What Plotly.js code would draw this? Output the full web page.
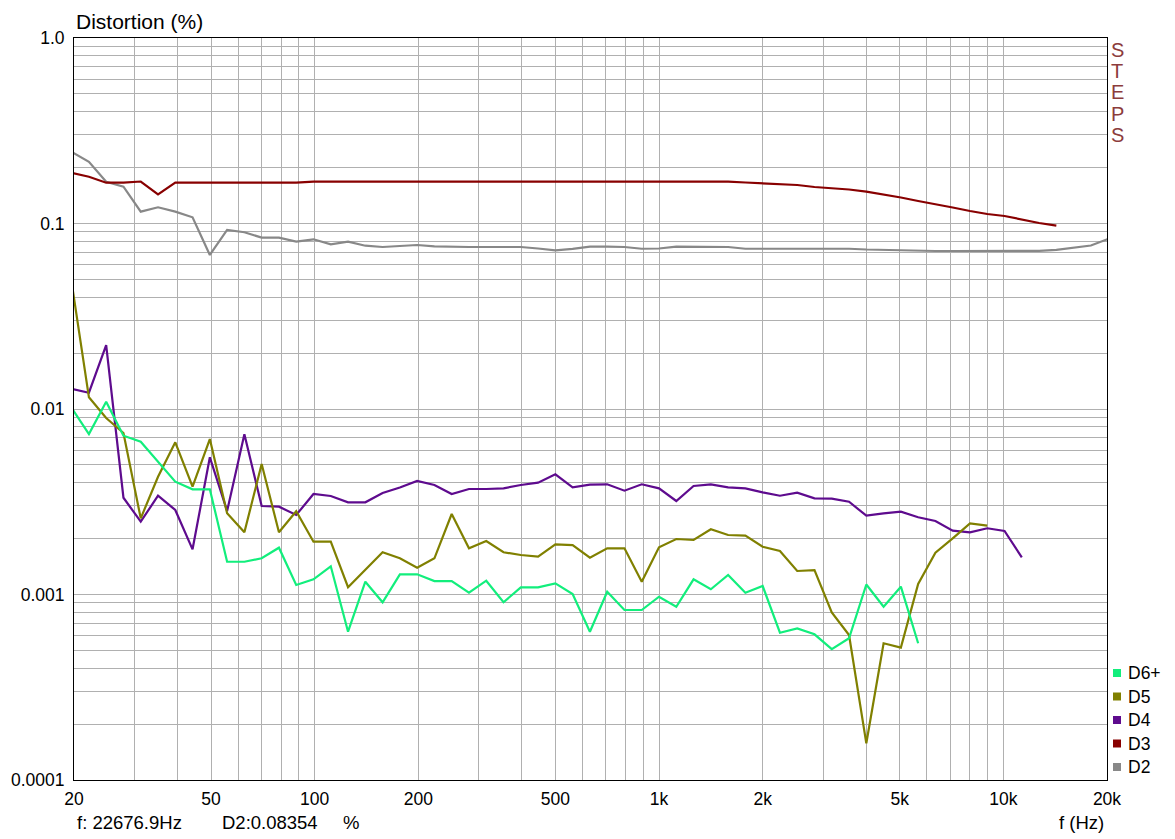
<!DOCTYPE html>
<html>
<head>
<meta charset="utf-8">
<script src="https://cdn.plot.ly/plotly-3.0.1.min.js"></script>
<style>
  html, body { margin: 0; padding: 0; background: #ffffff; }
  #chart { width: 1175px; height: 839px; }
</style>
</head>
<body>
<div id="chart"></div>
<script>
// 1/6-octave measurement frequencies (Hz)
const freqs = [
  19.69, 22.10, 24.80, 27.84, 31.25, 35.08, 39.37, 44.19, 49.61, 55.68,
  62.50, 70.15, 78.75, 88.39, 99.21, 111.36, 125.0, 140.31, 157.49, 176.78,
  198.43, 222.72, 250.0, 280.62, 314.98, 353.55, 396.85, 445.45, 500.0, 561.23,
  629.96, 707.11, 793.70, 890.90, 1000.0, 1122.46, 1259.92, 1414.21, 1587.40, 1781.80,
  2000.0, 2244.92, 2519.84, 2828.43, 3174.80, 3563.59, 4000.0, 4489.85, 5039.68, 5656.85,
  6349.60, 7127.19, 8000.0, 8979.70, 10079.37, 11313.71, 12699.21, 14254.38, 16000.0, 17959.39,
  20158.74
];

// Harmonic distortion, percent
const d2 = [
  0.243, 0.215, 0.168, 0.158, 0.1158, 0.1223, 0.1158, 0.1080, 0.0677, 0.0923,
  0.0897, 0.0839, 0.0839, 0.0798, 0.0822, 0.0772, 0.0798, 0.0759, 0.0747, 0.0756,
  0.0766, 0.0752, 0.0747, 0.0747, 0.0747, 0.0747, 0.0747, 0.0733, 0.0717, 0.0729,
  0.0750, 0.0750, 0.0747, 0.0731, 0.0733, 0.0750, 0.0750, 0.0750, 0.0747, 0.0731,
  0.0731, 0.0731, 0.0731, 0.0731, 0.0731, 0.0731, 0.0724, 0.0720, 0.0716, 0.0711,
  0.0711, 0.0711, 0.0711, 0.0711, 0.0711, 0.0711, 0.0712, 0.0720, 0.0738, 0.0761,
  0.0825
];
const d3 = [
  0.1877, 0.1788, 0.1660, 0.1660, 0.1684, 0.1437, 0.1660, 0.1660, 0.1660, 0.1660,
  0.1660, 0.1660, 0.1660, 0.1660, 0.1680, 0.1680, 0.1680, 0.1680, 0.1680, 0.1680,
  0.1680, 0.1680, 0.1680, 0.1680, 0.1680, 0.1680, 0.1680, 0.1680, 0.1680, 0.1680,
  0.1680, 0.1680, 0.1680, 0.1680, 0.1680, 0.1680, 0.1680, 0.1680, 0.1680, 0.1663,
  0.1647, 0.1633, 0.1613, 0.1573, 0.1548, 0.1525, 0.1484, 0.1433, 0.1381, 0.1322,
  0.1273, 0.1220, 0.1168, 0.1125, 0.1098, 0.1050, 0.1006, 0.0973
];
const d4 = [
  0.01282, 0.01224, 0.02213, 0.003324, 0.002469, 0.003408, 0.002854, 0.001752, 0.005491, 0.002819,
  0.007304, 0.003000, 0.002974, 0.002683, 0.003481, 0.003396, 0.003141, 0.003141, 0.003525, 0.003773,
  0.004091, 0.003894, 0.003481, 0.003704, 0.003704, 0.003736, 0.003894, 0.004006, 0.004446, 0.003783,
  0.003908, 0.003927, 0.003628, 0.003927, 0.003736, 0.003192, 0.003846, 0.003927, 0.003783, 0.003736,
  0.003556, 0.003408, 0.003538, 0.003300, 0.003284, 0.003164, 0.002659, 0.002740, 0.002795, 0.002608,
  0.002490, 0.002207, 0.002164, 0.002275, 0.002200, 0.001587
];
const d5 = [
  0.0480, 0.01156, 0.008943, 0.007424, 0.002575, 0.004315, 0.006613, 0.003812, 0.006890, 0.002740,
  0.002164, 0.005053, 0.002164, 0.002809, 0.001926, 0.001926, 0.001095, 0.001355, 0.001689, 0.001567,
  0.001395, 0.001567, 0.002716, 0.001774, 0.001943, 0.001689, 0.001633, 0.001599, 0.001865, 0.001848,
  0.001579, 0.001774, 0.001774, 0.001172, 0.001796, 0.001991, 0.001967, 0.002246, 0.002093, 0.002075,
  0.001810, 0.001716, 0.001339, 0.001355, 0.000800, 0.000605, 0.0001577, 0.000546, 0.000517, 0.001139,
  0.001680, 0.002009, 0.002420, 0.002349
];
const d6 = [
  0.01012, 0.007331, 0.01095, 0.007178, 0.006664, 0.005198, 0.004056, 0.003690, 0.003690, 0.001502,
  0.001502, 0.001567, 0.001788, 0.001125, 0.001207, 0.001419, 0.000630, 0.001172, 0.000908, 0.001285,
  0.001285, 0.001182, 0.001182, 0.001023, 0.001187, 0.000908, 0.001093, 0.001093, 0.001149, 0.001006,
  0.000630, 0.001035, 0.000825, 0.000825, 0.000973, 0.000859, 0.001207, 0.001067, 0.001274, 0.001023,
  0.001111, 0.000622, 0.000657, 0.000610, 0.000508, 0.000581, 0.001132, 0.000859, 0.001102, 0.000546
];

// Series names and colours, in legend order (top to bottom)
const seriesNames  = ['D6+', 'D5', 'D4', 'D3', 'D2'];
const seriesValues = [d6, d5, d4, d3, d2];
const seriesColors = ['#12ee7c', '#808000', '#5e0b8e', '#880000', '#888888'];

// Axis ticks and grid
const xTickVals = [20, 30, 40, 50, 60, 70, 80, 90, 100, 200, 300, 400, 500, 600, 700, 800, 900,
                   1000, 2000, 3000, 4000, 5000, 6000, 7000, 8000, 9000, 10000, 20000];
const xTickText = ['20', '', '', '50', '', '', '', '', '100', '200', '', '', '500', '', '', '', '',
                   '1k', '2k', '', '', '5k', '', '', '', '', '10k', '20k'];
const yDecades = [0.0001, 0.001, 0.01, 0.1];
const yDecadeText = ['0.0001', '0.001', '0.01', '0.1'];
const yTopText = '1.0';

const yTickVals = [];
const yTickText = [];
yDecades.forEach((d, i) => {
  for (let m = 1; m <= 9; m++) {
    yTickVals.push(d * m);
    yTickText.push(m === 1 ? yDecadeText[i] : '');
  }
});
yTickVals.push(1);
yTickText.push(yTopText);

const FONT = 'Liberation Sans, Arial, sans-serif';
const W = 1175, H = 839;
const M = { l: 74, r: 68, t: 38, b: 59 };
const plotW = W - M.l - M.r, plotH = H - M.t - M.b;
// pixel -> paper helpers for the decorations around the plot
const px = x => (x - M.l) / plotW;
const py = y => (H - M.b - y) / plotH;

// draw order: D2 first, D6+ last (on top)
const traces = [];
for (let i = seriesNames.length - 1; i >= 0; i--) {
  traces.push({
    type: 'scatter',
    mode: 'lines',
    name: seriesNames[i],
    x: freqs.slice(0, seriesValues[i].length),
    y: seriesValues[i],
    line: { color: seriesColors[i], width: 2.2 },
    hoverinfo: 'skip',
    showlegend: false
  });
}

// hand-placed legend: small squares plus names at the lower right
const shapes = [];
const annotations = [];
const legTop = 673, legStep = 23.5;
seriesNames.forEach((name, i) => {
  const cy = legTop + i * legStep;
  shapes.push({
    type: 'rect', xref: 'paper', yref: 'paper',
    x0: px(1113), x1: px(1121), y0: py(cy + 4), y1: py(cy - 4),
    fillcolor: seriesColors[i], line: { width: 0 }
  });
  annotations.push({
    xref: 'paper', yref: 'paper', x: px(1126), y: py(cy),
    xanchor: 'left', yanchor: 'middle', showarrow: false,
    text: name, font: { family: FONT, size: 17.5, color: '#000' }
  });
});

// vertical "STEPS" tag
const stepsLetters = ['S', 'T', 'E', 'P', 'S'];
stepsLetters.forEach((ch, i) => {
  annotations.push({
    xref: 'paper', yref: 'paper', x: px(1117), y: py(49.5 + i * 21.4),
    xanchor: 'center', yanchor: 'middle', showarrow: false,
    text: ch, font: { family: FONT, size: 20, color: '#8c3c3c' }
  });
});

// cursor readout and axis caption along the bottom
const bottomTexts = [
  { x: 75, text: 'f: 22676.9Hz', anchor: 'left' },
  { x: 220, text: 'D2:0.08354', anchor: 'left' },
  { x: 341, text: '%', anchor: 'left' },
  { x: 1106, text: 'f (Hz)', anchor: 'right' }
];
bottomTexts.forEach(t => {
  annotations.push({
    xref: 'paper', yref: 'paper', x: px(t.x), y: py(822),
    xanchor: t.anchor, yanchor: 'middle', showarrow: false,
    text: t.text, font: { family: FONT, size: 18.5, color: '#000' }
  });
});

const axisCommon = {
  type: 'log',
  showgrid: true,
  gridcolor: '#b0b0b0',
  gridwidth: 1,
  showline: true,
  linecolor: '#000000',
  linewidth: 1,
  mirror: true,
  zeroline: false,
  ticks: '',
  tickmode: 'array',
  tickfont: { family: FONT, size: 17.5, color: '#000' },
  fixedrange: true
};

const layout = {
  width: W,
  height: H,
  margin: { l: M.l, r: M.r, t: M.t, b: M.b, pad: 0 },
  paper_bgcolor: '#ffffff',
  plot_bgcolor: '#ffffff',
  showlegend: false,
  title: {
    text: 'Distortion (%)',
    xref: 'container', yref: 'container',
    x: 76 / W, xanchor: 'left',
    y: 1 - 22 / H, yanchor: 'middle',
    font: { family: FONT, size: 21, color: '#000' }
  },
  xaxis: Object.assign({}, axisCommon, {
    range: [Math.log10(20), Math.log10(20000)],
    tickvals: xTickVals,
    ticktext: xTickText,
    ticklabelstandoff: 3
  }),
  yaxis: Object.assign({}, axisCommon, {
    range: [-4, 0],
    tickvals: yTickVals,
    ticktext: yTickText,
    ticklabelstandoff: 5
  }),
  shapes: shapes,
  annotations: annotations
};

Plotly.newPlot('chart', traces, layout, { staticPlot: true, displayModeBar: false });
</script>
</body>
</html>
